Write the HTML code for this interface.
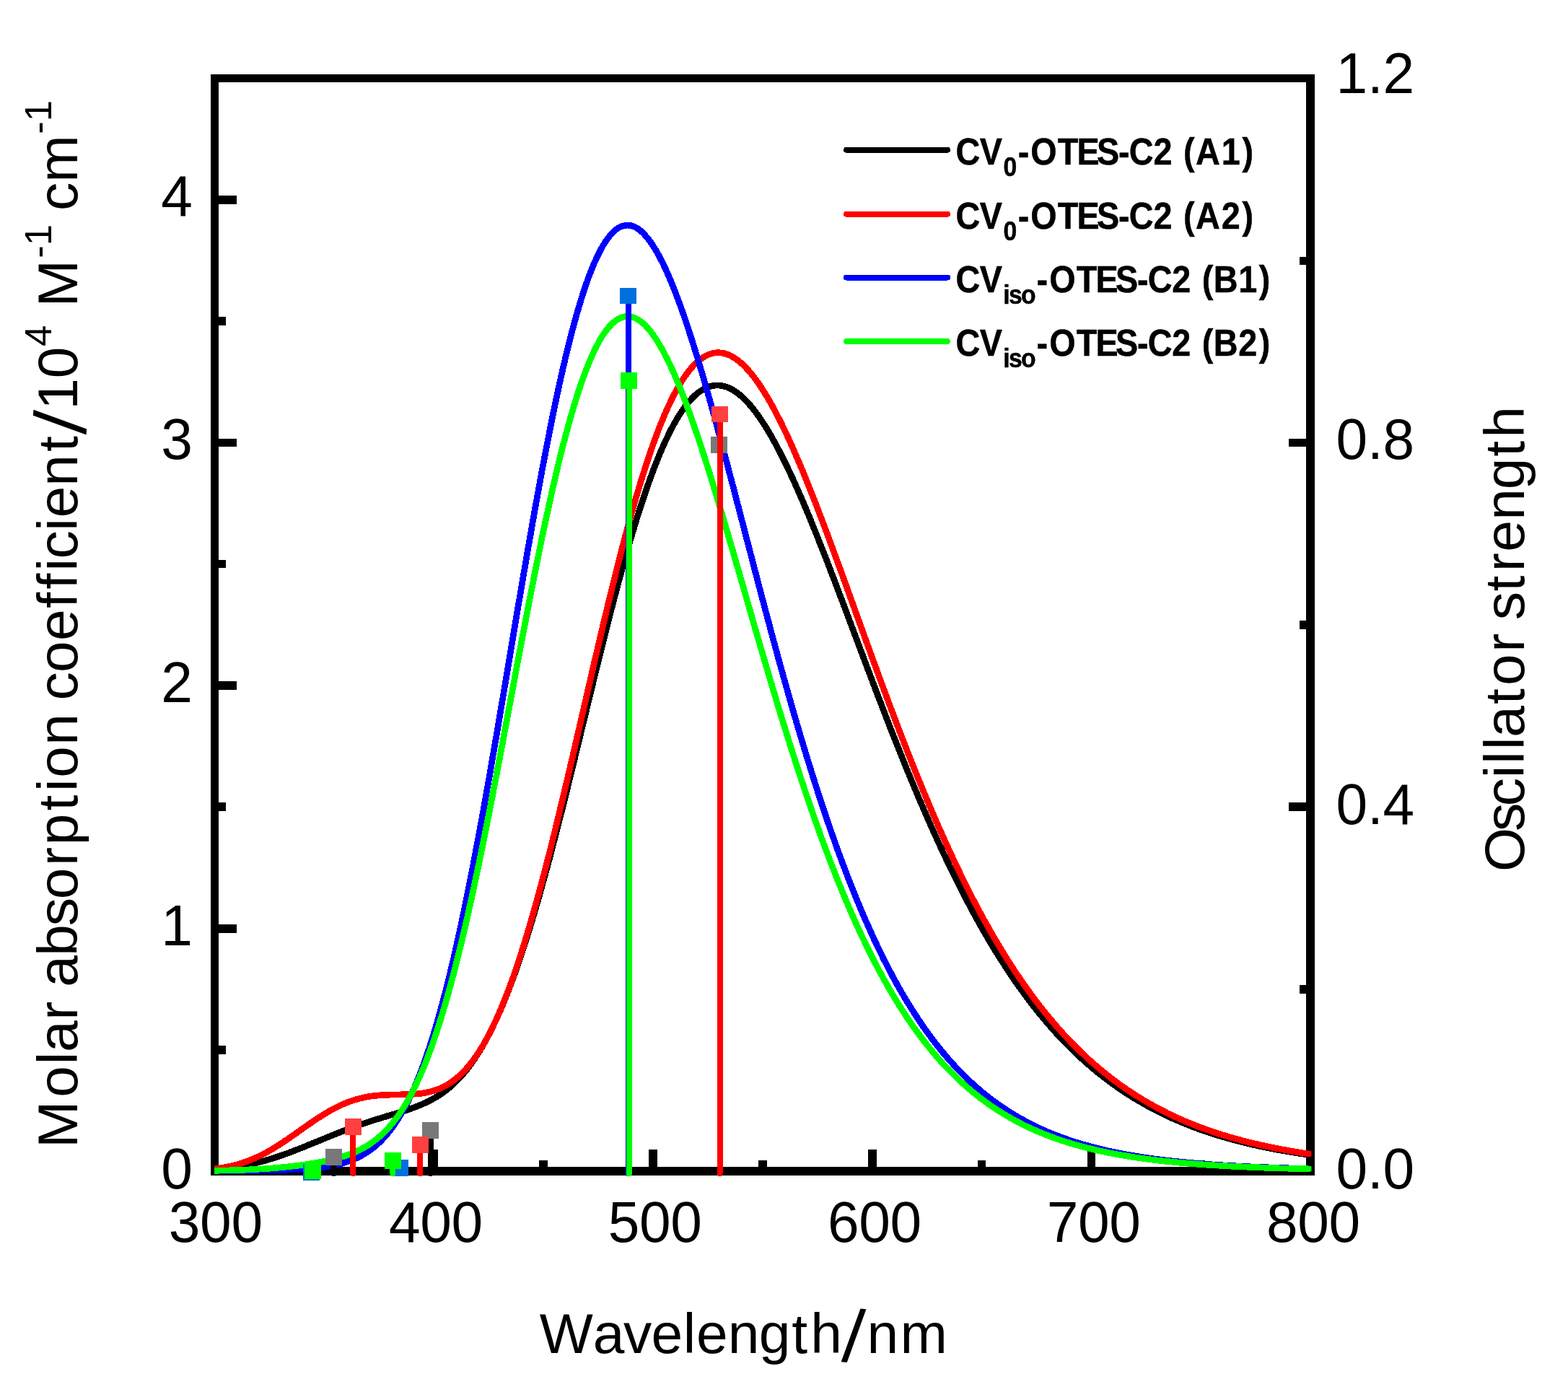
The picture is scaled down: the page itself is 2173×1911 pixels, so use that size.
<!DOCTYPE html>
<html lang="en"><head><meta charset="utf-8"><title>UV-Vis absorption spectra</title>
<style>html,body{margin:0;padding:0;background:#fff}body{width:2173px;height:1911px;overflow:hidden}svg{display:block}text{fill:#000}</style></head><body>
<svg width="2173" height="1911" viewBox="0 0 2173 1911">
<rect width="2173" height="1911" fill="#fff"/>
<g fill="#000" shape-rendering="crispEdges">
<rect x="292" y="103" width="11" height="1526"/>
<rect x="1810" y="103" width="12" height="1526"/>
<rect x="292" y="103" width="1530" height="11"/>
<rect x="292" y="1617" width="1530" height="12"/>
<rect x="303" y="271" width="25" height="12"/>
<rect x="303" y="608" width="25" height="11"/>
<rect x="303" y="944" width="25" height="12"/>
<rect x="303" y="1281" width="25" height="12"/>
<rect x="303" y="439" width="10" height="12"/>
<rect x="303" y="776" width="10" height="11"/>
<rect x="303" y="1112" width="10" height="12"/>
<rect x="303" y="1449" width="10" height="12"/>
<rect x="1786" y="608" width="24" height="11"/>
<rect x="1786" y="1112" width="24" height="12"/>
<rect x="1801" y="356" width="9" height="11"/>
<rect x="1801" y="860" width="9" height="12"/>
<rect x="1801" y="1365" width="9" height="12"/>
<rect x="595" y="1593" width="12" height="24"/>
<rect x="899" y="1593" width="12" height="24"/>
<rect x="1203" y="1593" width="12" height="24"/>
<rect x="1507" y="1593" width="11" height="24"/>
<rect x="443" y="1608" width="12" height="9"/>
<rect x="747" y="1608" width="12" height="9"/>
<rect x="1051" y="1608" width="12" height="9"/>
<rect x="1355" y="1608" width="11" height="9"/>
<rect x="1658" y="1608" width="12" height="9"/>
</g>
<clipPath id="cp"><rect x="297" y="100" width="1520.4" height="1532"/></clipPath>
<g clip-path="url(#cp)" shape-rendering="crispEdges">
<polyline points="292.6,1620.9 295.6,1620.7 298.6,1620.4 301.7,1620.2 304.7,1619.9 307.7,1619.6 310.8,1619.3 313.8,1619.0 316.9,1618.6 319.9,1618.2 322.9,1617.8 326.0,1617.3 329.0,1616.9 332.0,1616.4 335.1,1615.8 338.1,1615.3 341.2,1614.7 344.2,1614.1 347.2,1613.4 350.3,1612.7 353.3,1612.0 356.3,1611.3 359.4,1610.5 362.4,1609.7 365.5,1608.9 368.5,1608.0 371.5,1607.1 374.6,1606.2 377.6,1605.3 380.6,1604.3 383.7,1603.3 386.7,1602.3 389.7,1601.3 392.8,1600.2 395.8,1599.1 398.9,1598.0 401.9,1596.9 404.9,1595.7 408.0,1594.6 411.0,1593.4 414.0,1592.2 417.1,1591.0 420.1,1589.8 423.2,1588.6 426.2,1587.3 429.2,1586.1 432.3,1584.9 435.3,1583.6 438.3,1582.4 441.4,1581.1 444.4,1579.9 447.5,1578.6 450.5,1577.4 453.5,1576.1 456.6,1574.9 459.6,1573.6 462.6,1572.4 465.7,1571.2 468.7,1570.0 471.7,1568.8 474.8,1567.6 477.8,1566.4 480.9,1565.3 483.9,1564.1 486.9,1563.0 490.0,1561.9 493.0,1560.8 496.0,1559.7 499.1,1558.7 502.1,1557.6 505.2,1556.6 508.2,1555.6 511.2,1554.6 514.3,1553.6 517.3,1552.6 520.3,1551.6 523.4,1550.7 526.4,1549.8 529.4,1548.8 532.5,1547.9 535.5,1547.0 538.6,1546.1 541.6,1545.2 544.6,1544.3 547.7,1543.4 550.7,1542.4 553.7,1541.5 556.8,1540.6 559.8,1539.6 562.9,1538.6 565.9,1537.6 568.9,1536.5 572.0,1535.4 575.0,1534.3 578.0,1533.2 581.1,1531.9 584.1,1530.7 587.2,1529.3 590.2,1527.9 593.2,1526.5 596.3,1524.9 599.3,1523.3 602.3,1521.6 605.4,1519.7 608.4,1517.8 611.4,1515.8 614.5,1513.7 617.5,1511.4 620.6,1509.0 623.6,1506.5 626.6,1503.9 629.7,1501.1 632.7,1498.1 635.7,1495.0 638.8,1491.7 641.8,1488.3 644.9,1484.7 647.9,1480.9 650.9,1477.0 654.0,1472.8 657.0,1468.5 660.0,1463.9 663.1,1459.2 666.1,1454.2 669.2,1449.1 672.2,1443.7 675.2,1438.2 678.3,1432.4 681.3,1426.3 684.3,1420.1 687.4,1413.7 690.4,1407.0 693.4,1400.1 696.5,1392.9 699.5,1385.6 702.6,1378.0 705.6,1370.2 708.6,1362.2 711.7,1353.9 714.7,1345.4 717.7,1336.8 720.8,1327.8 723.8,1318.7 726.9,1309.4 729.9,1299.9 732.9,1290.1 736.0,1280.2 739.0,1270.1 742.0,1259.8 745.1,1249.3 748.1,1238.6 751.1,1227.7 754.2,1216.7 757.2,1205.6 760.3,1194.3 763.3,1182.8 766.3,1171.2 769.4,1159.5 772.4,1147.7 775.4,1135.8 778.5,1123.7 781.5,1111.6 784.6,1099.4 787.6,1087.1 790.6,1074.7 793.7,1062.3 796.7,1049.9 799.7,1037.4 802.8,1024.8 805.8,1012.3 808.9,999.8 811.9,987.2 814.9,974.7 818.0,962.2 821.0,949.7 824.0,937.3 827.1,924.9 830.1,912.5 833.1,900.3 836.2,888.1 839.2,876.0 842.3,864.1 845.3,852.2 848.3,840.4 851.4,828.8 854.4,817.3 857.4,805.9 860.5,794.7 863.5,783.7 866.6,772.8 869.6,762.1 872.6,751.6 875.7,741.3 878.7,731.1 881.7,721.2 884.8,711.5 887.8,702.0 890.9,692.7 893.9,683.7 896.9,674.9 900.0,666.3 903.0,657.9 906.0,649.9 909.1,642.0 912.1,634.5 915.1,627.1 918.2,620.1 921.2,613.3 924.3,606.8 927.3,600.5 930.3,594.6 933.4,588.9 936.4,583.5 939.4,578.3 942.5,573.5 945.5,568.9 948.6,564.6 951.6,560.6 954.6,556.9 957.7,553.5 960.7,550.3 963.7,547.4 966.8,544.8 969.8,542.5 972.9,540.5 975.9,538.7 978.9,537.3 982.0,536.1 985.0,535.1 988.0,534.5 991.1,534.1 994.1,534.0 997.1,534.1 1000.2,534.5 1003.2,535.2 1006.3,536.1 1009.3,537.2 1012.3,538.6 1015.4,540.3 1018.4,542.2 1021.4,544.3 1024.5,546.6 1027.5,549.2 1030.6,552.0 1033.6,555.0 1036.6,558.3 1039.7,561.7 1042.7,565.4 1045.7,569.2 1048.8,573.2 1051.8,577.5 1054.8,581.9 1057.9,586.5 1060.9,591.3 1064.0,596.2 1067.0,601.3 1070.0,606.6 1073.1,612.1 1076.1,617.7 1079.1,623.4 1082.2,629.3 1085.2,635.3 1088.3,641.4 1091.3,647.7 1094.3,654.1 1097.4,660.7 1100.4,667.3 1103.4,674.0 1106.5,680.9 1109.5,687.8 1112.6,694.9 1115.6,702.0 1118.6,709.2 1121.7,716.5 1124.7,723.9 1127.7,731.4 1130.8,738.9 1133.8,746.5 1136.8,754.1 1139.9,761.8 1142.9,769.6 1146.0,777.4 1149.0,785.2 1152.0,793.1 1155.1,801.0 1158.1,809.0 1161.1,817.0 1164.2,825.0 1167.2,833.0 1170.3,841.1 1173.3,849.1 1176.3,857.2 1179.4,865.3 1182.4,873.4 1185.4,881.5 1188.5,889.6 1191.5,897.6 1194.6,905.7 1197.6,913.8 1200.6,921.9 1203.7,929.9 1206.7,937.9 1209.7,945.9 1212.8,953.9 1215.8,961.9 1218.8,969.8 1221.9,977.7 1224.9,985.6 1228.0,993.5 1231.0,1001.3 1234.0,1009.1 1237.1,1016.8 1240.1,1024.5 1243.1,1032.2 1246.2,1039.8 1249.2,1047.4 1252.3,1054.9 1255.3,1062.4 1258.3,1069.8 1261.4,1077.2 1264.4,1084.5 1267.4,1091.8 1270.5,1099.0 1273.5,1106.2 1276.6,1113.3 1279.6,1120.3 1282.6,1127.3 1285.7,1134.3 1288.7,1141.2 1291.7,1148.0 1294.8,1154.7 1297.8,1161.4 1300.8,1168.1 1303.9,1174.7 1306.9,1181.2 1310.0,1187.6 1313.0,1194.0 1316.0,1200.3 1319.1,1206.6 1322.1,1212.8 1325.1,1218.9 1328.2,1225.0 1331.2,1231.0 1334.3,1236.9 1337.3,1242.8 1340.3,1248.6 1343.4,1254.4 1346.4,1260.0 1349.4,1265.7 1352.5,1271.2 1355.5,1276.7 1358.5,1282.1 1361.6,1287.5 1364.6,1292.7 1367.7,1298.0 1370.7,1303.1 1373.7,1308.2 1376.8,1313.2 1379.8,1318.2 1382.8,1323.1 1385.9,1327.9 1388.9,1332.7 1392.0,1337.4 1395.0,1342.1 1398.0,1346.7 1401.1,1351.2 1404.1,1355.7 1407.1,1360.1 1410.2,1364.4 1413.2,1368.7 1416.3,1372.9 1419.3,1377.1 1422.3,1381.2 1425.4,1385.2 1428.4,1389.2 1431.4,1393.2 1434.5,1397.0 1437.5,1400.9 1440.5,1404.6 1443.6,1408.3 1446.6,1412.0 1449.7,1415.6 1452.7,1419.1 1455.7,1422.6 1458.8,1426.1 1461.8,1429.5 1464.8,1432.8 1467.9,1436.1 1470.9,1439.3 1474.0,1442.5 1477.0,1445.7 1480.0,1448.7 1483.1,1451.8 1486.1,1454.8 1489.1,1457.7 1492.2,1460.6 1495.2,1463.5 1498.3,1466.3 1501.3,1469.0 1504.3,1471.8 1507.4,1474.4 1510.4,1477.1 1513.4,1479.7 1516.5,1482.2 1519.5,1484.7 1522.5,1487.2 1525.6,1489.6 1528.6,1492.0 1531.7,1494.3 1534.7,1496.6 1537.7,1498.9 1540.8,1501.1 1543.8,1503.3 1546.8,1505.5 1549.9,1507.6 1552.9,1509.7 1556.0,1511.7 1559.0,1513.8 1562.0,1515.7 1565.1,1517.7 1568.1,1519.6 1571.1,1521.5 1574.2,1523.3 1577.2,1525.1 1580.3,1526.9 1583.3,1528.7 1586.3,1530.4 1589.4,1532.1 1592.4,1533.8 1595.4,1535.4 1598.5,1537.0 1601.5,1538.6 1604.5,1540.1 1607.6,1541.6 1610.6,1543.1 1613.7,1544.6 1616.7,1546.1 1619.7,1547.5 1622.8,1548.9 1625.8,1550.2 1628.8,1551.6 1631.9,1552.9 1634.9,1554.2 1638.0,1555.5 1641.0,1556.7 1644.0,1557.9 1647.1,1559.2 1650.1,1560.3 1653.1,1561.5 1656.2,1562.6 1659.2,1563.8 1662.2,1564.9 1665.3,1565.9 1668.3,1567.0 1671.4,1568.0 1674.4,1569.1 1677.4,1570.1 1680.5,1571.1 1683.5,1572.0 1686.5,1573.0 1689.6,1573.9 1692.6,1574.8 1695.7,1575.7 1698.7,1576.6 1701.7,1577.5 1704.8,1578.3 1707.8,1579.1 1710.8,1580.0 1713.9,1580.8 1716.9,1581.6 1720.0,1582.3 1723.0,1583.1 1726.0,1583.8 1729.1,1584.6 1732.1,1585.3 1735.1,1586.0 1738.2,1586.7 1741.2,1587.4 1744.2,1588.0 1747.3,1588.7 1750.3,1589.3 1753.4,1589.9 1756.4,1590.6 1759.4,1591.2 1762.5,1591.8 1765.5,1592.3 1768.5,1592.9 1771.6,1593.5 1774.6,1594.0 1777.7,1594.6 1780.7,1595.1 1783.7,1595.6 1786.8,1596.1 1789.8,1596.6 1792.8,1597.1 1795.9,1597.6 1798.9,1598.1 1802.0,1598.5 1805.0,1599.0 1808.0,1599.4 1811.1,1599.9 1814.1,1600.3" fill="none" stroke="#000000" stroke-width="8.7" stroke-linejoin="round" stroke-linecap="round"/>
<polyline points="292.6,1620.3 295.6,1619.9 298.6,1619.6 301.7,1619.2 304.7,1618.8 307.7,1618.3 310.8,1617.8 313.8,1617.2 316.9,1616.6 319.9,1616.0 322.9,1615.2 326.0,1614.5 329.0,1613.7 332.0,1612.8 335.1,1611.8 338.1,1610.8 341.2,1609.8 344.2,1608.7 347.2,1607.5 350.3,1606.2 353.3,1604.9 356.3,1603.5 359.4,1602.1 362.4,1600.6 365.5,1599.0 368.5,1597.4 371.5,1595.7 374.6,1594.0 377.6,1592.2 380.6,1590.4 383.7,1588.5 386.7,1586.6 389.7,1584.6 392.8,1582.6 395.8,1580.5 398.9,1578.5 401.9,1576.4 404.9,1574.3 408.0,1572.1 411.0,1570.0 414.0,1567.8 417.1,1565.7 420.1,1563.5 423.2,1561.4 426.2,1559.3 429.2,1557.2 432.3,1555.1 435.3,1553.0 438.3,1551.0 441.4,1549.0 444.4,1547.1 447.5,1545.2 450.5,1543.3 453.5,1541.5 456.6,1539.7 459.6,1538.0 462.6,1536.4 465.7,1534.8 468.7,1533.3 471.7,1531.9 474.8,1530.5 477.8,1529.2 480.9,1528.0 483.9,1526.8 486.9,1525.7 490.0,1524.7 493.0,1523.8 496.0,1522.9 499.1,1522.1 502.1,1521.4 505.2,1520.7 508.2,1520.1 511.2,1519.6 514.3,1519.1 517.3,1518.7 520.3,1518.4 523.4,1518.1 526.4,1517.8 529.4,1517.6 532.5,1517.4 535.5,1517.3 538.6,1517.2 541.6,1517.1 544.6,1517.0 547.7,1517.0 550.7,1516.9 553.7,1516.9 556.8,1516.8 559.8,1516.8 562.9,1516.7 565.9,1516.6 568.9,1516.5 572.0,1516.3 575.0,1516.1 578.0,1515.9 581.1,1515.6 584.1,1515.2 587.2,1514.7 590.2,1514.2 593.2,1513.6 596.3,1512.8 599.3,1512.0 602.3,1511.1 605.4,1510.0 608.4,1508.9 611.4,1507.6 614.5,1506.1 617.5,1504.5 620.6,1502.8 623.6,1500.9 626.6,1498.8 629.7,1496.5 632.7,1494.1 635.7,1491.5 638.8,1488.7 641.8,1485.7 644.9,1482.5 647.9,1479.1 650.9,1475.4 654.0,1471.6 657.0,1467.5 660.0,1463.2 663.1,1458.7 666.1,1453.9 669.2,1448.9 672.2,1443.6 675.2,1438.1 678.3,1432.4 681.3,1426.4 684.3,1420.2 687.4,1413.7 690.4,1406.9 693.4,1399.9 696.5,1392.7 699.5,1385.2 702.6,1377.4 705.6,1369.4 708.6,1361.2 711.7,1352.7 714.7,1343.9 717.7,1334.9 720.8,1325.7 723.8,1316.3 726.9,1306.6 729.9,1296.7 732.9,1286.5 736.0,1276.2 739.0,1265.6 742.0,1254.9 745.1,1243.9 748.1,1232.8 751.1,1221.4 754.2,1209.9 757.2,1198.2 760.3,1186.4 763.3,1174.4 766.3,1162.3 769.4,1150.0 772.4,1137.6 775.4,1125.0 778.5,1112.4 781.5,1099.7 784.6,1086.8 787.6,1073.9 790.6,1060.9 793.7,1047.9 796.7,1034.8 799.7,1021.7 802.8,1008.5 805.8,995.3 808.9,982.1 811.9,968.9 814.9,955.7 818.0,942.6 821.0,929.4 824.0,916.4 827.1,903.3 830.1,890.4 833.1,877.5 836.2,864.6 839.2,851.9 842.3,839.3 845.3,826.8 848.3,814.4 851.4,802.1 854.4,790.0 857.4,778.0 860.5,766.2 863.5,754.6 866.6,743.1 869.6,731.8 872.6,720.7 875.7,709.8 878.7,699.1 881.7,688.6 884.8,678.4 887.8,668.3 890.9,658.5 893.9,648.9 896.9,639.6 900.0,630.5 903.0,621.7 906.0,613.2 909.1,604.9 912.1,596.8 915.1,589.1 918.2,581.6 921.2,574.4 924.3,567.4 927.3,560.8 930.3,554.5 933.4,548.4 936.4,542.6 939.4,537.1 942.5,531.9 945.5,527.1 948.6,522.5 951.6,518.2 954.6,514.2 957.7,510.4 960.7,507.0 963.7,503.9 966.8,501.1 969.8,498.6 972.9,496.3 975.9,494.4 978.9,492.7 982.0,491.4 985.0,490.3 988.0,489.5 991.1,489.0 994.1,488.7 997.1,488.8 1000.2,489.1 1003.2,489.6 1006.3,490.5 1009.3,491.6 1012.3,492.9 1015.4,494.6 1018.4,496.4 1021.4,498.5 1024.5,500.9 1027.5,503.5 1030.6,506.3 1033.6,509.4 1036.6,512.6 1039.7,516.1 1042.7,519.8 1045.7,523.8 1048.8,527.9 1051.8,532.2 1054.8,536.7 1057.9,541.5 1060.9,546.4 1064.0,551.5 1067.0,556.7 1070.0,562.1 1073.1,567.7 1076.1,573.5 1079.1,579.4 1082.2,585.5 1085.2,591.7 1088.3,598.0 1091.3,604.5 1094.3,611.1 1097.4,617.9 1100.4,624.7 1103.4,631.7 1106.5,638.8 1109.5,646.0 1112.6,653.3 1115.6,660.7 1118.6,668.2 1121.7,675.7 1124.7,683.4 1127.7,691.1 1130.8,698.9 1133.8,706.8 1136.8,714.7 1139.9,722.7 1142.9,730.7 1146.0,738.8 1149.0,747.0 1152.0,755.2 1155.1,763.4 1158.1,771.7 1161.1,780.0 1164.2,788.3 1167.2,796.6 1170.3,805.0 1173.3,813.4 1176.3,821.8 1179.4,830.2 1182.4,838.6 1185.4,847.0 1188.5,855.5 1191.5,863.9 1194.6,872.3 1197.6,880.7 1200.6,889.1 1203.7,897.5 1206.7,905.8 1209.7,914.2 1212.8,922.5 1215.8,930.8 1218.8,939.1 1221.9,947.3 1224.9,955.5 1228.0,963.7 1231.0,971.9 1234.0,980.0 1237.1,988.0 1240.1,996.1 1243.1,1004.1 1246.2,1012.0 1249.2,1019.9 1252.3,1027.8 1255.3,1035.6 1258.3,1043.3 1261.4,1051.0 1264.4,1058.7 1267.4,1066.3 1270.5,1073.8 1273.5,1081.3 1276.6,1088.7 1279.6,1096.1 1282.6,1103.4 1285.7,1110.6 1288.7,1117.8 1291.7,1125.0 1294.8,1132.0 1297.8,1139.0 1300.8,1146.0 1303.9,1152.8 1306.9,1159.6 1310.0,1166.4 1313.0,1173.1 1316.0,1179.7 1319.1,1186.2 1322.1,1192.7 1325.1,1199.1 1328.2,1205.5 1331.2,1211.7 1334.3,1217.9 1337.3,1224.1 1340.3,1230.2 1343.4,1236.2 1346.4,1242.1 1349.4,1248.0 1352.5,1253.8 1355.5,1259.5 1358.5,1265.2 1361.6,1270.8 1364.6,1276.3 1367.7,1281.8 1370.7,1287.2 1373.7,1292.5 1376.8,1297.8 1379.8,1303.0 1382.8,1308.1 1385.9,1313.2 1388.9,1318.2 1392.0,1323.1 1395.0,1328.0 1398.0,1332.8 1401.1,1337.5 1404.1,1342.2 1407.1,1346.8 1410.2,1351.4 1413.2,1355.8 1416.3,1360.3 1419.3,1364.6 1422.3,1368.9 1425.4,1373.2 1428.4,1377.4 1431.4,1381.5 1434.5,1385.6 1437.5,1389.6 1440.5,1393.5 1443.6,1397.4 1446.6,1401.2 1449.7,1405.0 1452.7,1408.7 1455.7,1412.4 1458.8,1416.0 1461.8,1419.5 1464.8,1423.0 1467.9,1426.5 1470.9,1429.9 1474.0,1433.2 1477.0,1436.5 1480.0,1439.8 1483.1,1443.0 1486.1,1446.1 1489.1,1449.2 1492.2,1452.2 1495.2,1455.2 1498.3,1458.2 1501.3,1461.1 1504.3,1463.9 1507.4,1466.7 1510.4,1469.5 1513.4,1472.2 1516.5,1474.9 1519.5,1477.5 1522.5,1480.1 1525.6,1482.7 1528.6,1485.2 1531.7,1487.6 1534.7,1490.0 1537.7,1492.4 1540.8,1494.8 1543.8,1497.1 1546.8,1499.3 1549.9,1501.6 1552.9,1503.7 1556.0,1505.9 1559.0,1508.0 1562.0,1510.1 1565.1,1512.1 1568.1,1514.1 1571.1,1516.1 1574.2,1518.1 1577.2,1520.0 1580.3,1521.8 1583.3,1523.7 1586.3,1525.5 1589.4,1527.3 1592.4,1529.0 1595.4,1530.7 1598.5,1532.4 1601.5,1534.1 1604.5,1535.7 1607.6,1537.3 1610.6,1538.9 1613.7,1540.4 1616.7,1542.0 1619.7,1543.5 1622.8,1544.9 1625.8,1546.4 1628.8,1547.8 1631.9,1549.2 1634.9,1550.5 1638.0,1551.9 1641.0,1553.2 1644.0,1554.5 1647.1,1555.7 1650.1,1557.0 1653.1,1558.2 1656.2,1559.4 1659.2,1560.6 1662.2,1561.7 1665.3,1562.9 1668.3,1564.0 1671.4,1565.1 1674.4,1566.2 1677.4,1567.2 1680.5,1568.3 1683.5,1569.3 1686.5,1570.3 1689.6,1571.3 1692.6,1572.2 1695.7,1573.2 1698.7,1574.1 1701.7,1575.0 1704.8,1575.9 1707.8,1576.8 1710.8,1577.6 1713.9,1578.5 1716.9,1579.3 1720.0,1580.1 1723.0,1580.9 1726.0,1581.7 1729.1,1582.5 1732.1,1583.2 1735.1,1584.0 1738.2,1584.7 1741.2,1585.4 1744.2,1586.1 1747.3,1586.8 1750.3,1587.5 1753.4,1588.1 1756.4,1588.8 1759.4,1589.4 1762.5,1590.1 1765.5,1590.7 1768.5,1591.3 1771.6,1591.9 1774.6,1592.4 1777.7,1593.0 1780.7,1593.6 1783.7,1594.1 1786.8,1594.7 1789.8,1595.2 1792.8,1595.7 1795.9,1596.2 1798.9,1596.7 1802.0,1597.2 1805.0,1597.7 1808.0,1598.1 1811.1,1598.6 1814.1,1599.1" fill="none" stroke="#ff0000" stroke-width="8.7" stroke-linejoin="round" stroke-linecap="round"/>
<polyline points="292.6,1622.6 295.6,1622.6 298.6,1622.6 301.7,1622.6 304.7,1622.6 307.7,1622.5 310.8,1622.5 313.8,1622.5 316.9,1622.5 319.9,1622.5 322.9,1622.5 326.0,1622.5 329.0,1622.5 332.0,1622.4 335.1,1622.4 338.1,1622.4 341.2,1622.4 344.2,1622.3 347.2,1622.3 350.3,1622.3 353.3,1622.2 356.3,1622.2 359.4,1622.2 362.4,1622.1 365.5,1622.1 368.5,1622.0 371.5,1621.9 374.6,1621.9 377.6,1621.8 380.6,1621.7 383.7,1621.6 386.7,1621.6 389.7,1621.5 392.8,1621.4 395.8,1621.3 398.9,1621.1 401.9,1621.0 404.9,1620.9 408.0,1620.7 411.0,1620.6 414.0,1620.4 417.1,1620.2 420.1,1620.0 423.2,1619.8 426.2,1619.6 429.2,1619.4 432.3,1619.1 435.3,1618.8 438.3,1618.5 441.4,1618.2 444.4,1617.8 447.5,1617.4 450.5,1617.0 453.5,1616.5 456.6,1616.0 459.6,1615.4 462.6,1614.9 465.7,1614.2 468.7,1613.5 471.7,1612.8 474.8,1611.9 477.8,1611.0 480.9,1610.1 483.9,1609.0 486.9,1607.9 490.0,1606.7 493.0,1605.4 496.0,1604.0 499.1,1602.4 502.1,1600.8 505.2,1599.0 508.2,1597.1 511.2,1595.1 514.3,1592.9 517.3,1590.6 520.3,1588.1 523.4,1585.4 526.4,1582.6 529.4,1579.5 532.5,1576.3 535.5,1572.8 538.6,1569.2 541.6,1565.3 544.6,1561.2 547.7,1556.8 550.7,1552.2 553.7,1547.3 556.8,1542.2 559.8,1536.8 562.9,1531.1 565.9,1525.1 568.9,1518.8 572.0,1512.2 575.0,1505.4 578.0,1498.1 581.1,1490.6 584.1,1482.8 587.2,1474.6 590.2,1466.0 593.2,1457.2 596.3,1448.0 599.3,1438.4 602.3,1428.5 605.4,1418.2 608.4,1407.6 611.4,1396.6 614.5,1385.3 617.5,1373.7 620.6,1361.7 623.6,1349.3 626.6,1336.6 629.7,1323.6 632.7,1310.2 635.7,1296.5 638.8,1282.5 641.8,1268.2 644.9,1253.6 647.9,1238.6 650.9,1223.4 654.0,1207.9 657.0,1192.2 660.0,1176.2 663.1,1159.9 666.1,1143.5 669.2,1126.8 672.2,1109.9 675.2,1092.8 678.3,1075.5 681.3,1058.1 684.3,1040.5 687.4,1022.8 690.4,1005.0 693.4,987.1 696.5,969.1 699.5,951.1 702.6,933.0 705.6,914.9 708.6,896.8 711.7,878.7 714.7,860.6 717.7,842.6 720.8,824.6 723.8,806.7 726.9,788.9 729.9,771.3 732.9,753.7 736.0,736.4 739.0,719.1 742.0,702.1 745.1,685.3 748.1,668.7 751.1,652.3 754.2,636.2 757.2,620.4 760.3,604.8 763.3,589.5 766.3,574.5 769.4,559.9 772.4,545.6 775.4,531.6 778.5,518.0 781.5,504.8 784.6,492.0 787.6,479.5 790.6,467.5 793.7,455.8 796.7,444.6 799.7,433.8 802.8,423.4 805.8,413.5 808.9,404.0 811.9,395.0 814.9,386.4 818.0,378.3 821.0,370.7 824.0,363.5 827.1,356.8 830.1,350.6 833.1,344.8 836.2,339.5 839.2,334.7 842.3,330.3 845.3,326.5 848.3,323.1 851.4,320.1 854.4,317.6 857.4,315.6 860.5,314.1 863.5,313.0 866.6,312.3 869.6,312.1 872.6,312.3 875.7,313.0 878.7,314.1 881.7,315.6 884.8,317.5 887.8,319.9 890.9,322.6 893.9,325.8 896.9,329.3 900.0,333.2 903.0,337.4 906.0,342.1 909.1,347.1 912.1,352.4 915.1,358.1 918.2,364.0 921.2,370.3 924.3,377.0 927.3,383.9 930.3,391.1 933.4,398.6 936.4,406.3 939.4,414.3 942.5,422.6 945.5,431.1 948.6,439.8 951.6,448.8 954.6,458.0 957.7,467.3 960.7,476.9 963.7,486.7 966.8,496.6 969.8,506.7 972.9,516.9 975.9,527.3 978.9,537.9 982.0,548.6 985.0,559.3 988.0,570.3 991.1,581.3 994.1,592.4 997.1,603.6 1000.2,614.8 1003.2,626.2 1006.3,637.6 1009.3,649.1 1012.3,660.6 1015.4,672.1 1018.4,683.7 1021.4,695.3 1024.5,707.0 1027.5,718.7 1030.6,730.3 1033.6,742.0 1036.6,753.7 1039.7,765.3 1042.7,777.0 1045.7,788.6 1048.8,800.2 1051.8,811.8 1054.8,823.3 1057.9,834.8 1060.9,846.3 1064.0,857.7 1067.0,869.0 1070.0,880.3 1073.1,891.5 1076.1,902.7 1079.1,913.8 1082.2,924.8 1085.2,935.8 1088.3,946.6 1091.3,957.4 1094.3,968.1 1097.4,978.8 1100.4,989.3 1103.4,999.7 1106.5,1010.1 1109.5,1020.3 1112.6,1030.5 1115.6,1040.5 1118.6,1050.5 1121.7,1060.3 1124.7,1070.1 1127.7,1079.7 1130.8,1089.3 1133.8,1098.7 1136.8,1108.0 1139.9,1117.2 1142.9,1126.3 1146.0,1135.3 1149.0,1144.2 1152.0,1152.9 1155.1,1161.6 1158.1,1170.1 1161.1,1178.5 1164.2,1186.9 1167.2,1195.1 1170.3,1203.1 1173.3,1211.1 1176.3,1219.0 1179.4,1226.7 1182.4,1234.3 1185.4,1241.9 1188.5,1249.3 1191.5,1256.6 1194.6,1263.7 1197.6,1270.8 1200.6,1277.8 1203.7,1284.6 1206.7,1291.4 1209.7,1298.0 1212.8,1304.5 1215.8,1310.9 1218.8,1317.3 1221.9,1323.5 1224.9,1329.6 1228.0,1335.6 1231.0,1341.5 1234.0,1347.3 1237.1,1353.0 1240.1,1358.6 1243.1,1364.1 1246.2,1369.5 1249.2,1374.8 1252.3,1380.0 1255.3,1385.1 1258.3,1390.1 1261.4,1395.1 1264.4,1399.9 1267.4,1404.7 1270.5,1409.3 1273.5,1413.9 1276.6,1418.4 1279.6,1422.8 1282.6,1427.1 1285.7,1431.4 1288.7,1435.5 1291.7,1439.6 1294.8,1443.6 1297.8,1447.5 1300.8,1451.3 1303.9,1455.1 1306.9,1458.8 1310.0,1462.4 1313.0,1466.0 1316.0,1469.4 1319.1,1472.8 1322.1,1476.2 1325.1,1479.4 1328.2,1482.6 1331.2,1485.8 1334.3,1488.9 1337.3,1491.9 1340.3,1494.8 1343.4,1497.7 1346.4,1500.5 1349.4,1503.3 1352.5,1506.0 1355.5,1508.6 1358.5,1511.2 1361.6,1513.8 1364.6,1516.2 1367.7,1518.7 1370.7,1521.1 1373.7,1523.4 1376.8,1525.7 1379.8,1527.9 1382.8,1530.1 1385.9,1532.2 1388.9,1534.3 1392.0,1536.3 1395.0,1538.3 1398.0,1540.3 1401.1,1542.2 1404.1,1544.1 1407.1,1545.9 1410.2,1547.7 1413.2,1549.4 1416.3,1551.1 1419.3,1552.8 1422.3,1554.4 1425.4,1556.0 1428.4,1557.6 1431.4,1559.1 1434.5,1560.6 1437.5,1562.1 1440.5,1563.5 1443.6,1564.9 1446.6,1566.2 1449.7,1567.6 1452.7,1568.9 1455.7,1570.1 1458.8,1571.4 1461.8,1572.6 1464.8,1573.8 1467.9,1574.9 1470.9,1576.1 1474.0,1577.2 1477.0,1578.2 1480.0,1579.3 1483.1,1580.3 1486.1,1581.3 1489.1,1582.3 1492.2,1583.3 1495.2,1584.2 1498.3,1585.1 1501.3,1586.0 1504.3,1586.9 1507.4,1587.7 1510.4,1588.6 1513.4,1589.4 1516.5,1590.2 1519.5,1590.9 1522.5,1591.7 1525.6,1592.4 1528.6,1593.2 1531.7,1593.9 1534.7,1594.6 1537.7,1595.2 1540.8,1595.9 1543.8,1596.5 1546.8,1597.2 1549.9,1597.8 1552.9,1598.4 1556.0,1598.9 1559.0,1599.5 1562.0,1600.1 1565.1,1600.6 1568.1,1601.1 1571.1,1601.6 1574.2,1602.2 1577.2,1602.6 1580.3,1603.1 1583.3,1603.6 1586.3,1604.0 1589.4,1604.5 1592.4,1604.9 1595.4,1605.4 1598.5,1605.8 1601.5,1606.2 1604.5,1606.6 1607.6,1607.0 1610.6,1607.3 1613.7,1607.7 1616.7,1608.1 1619.7,1608.4 1622.8,1608.7 1625.8,1609.1 1628.8,1609.4 1631.9,1609.7 1634.9,1610.0 1638.0,1610.3 1641.0,1610.6 1644.0,1610.9 1647.1,1611.2 1650.1,1611.5 1653.1,1611.7 1656.2,1612.0 1659.2,1612.3 1662.2,1612.5 1665.3,1612.7 1668.3,1613.0 1671.4,1613.2 1674.4,1613.4 1677.4,1613.7 1680.5,1613.9 1683.5,1614.1 1686.5,1614.3 1689.6,1614.5 1692.6,1614.7 1695.7,1614.9 1698.7,1615.1 1701.7,1615.2 1704.8,1615.4 1707.8,1615.6 1710.8,1615.8 1713.9,1615.9 1716.9,1616.1 1720.0,1616.2 1723.0,1616.4 1726.0,1616.5 1729.1,1616.7 1732.1,1616.8 1735.1,1617.0 1738.2,1617.1 1741.2,1617.2 1744.2,1617.4 1747.3,1617.5 1750.3,1617.6 1753.4,1617.7 1756.4,1617.8 1759.4,1617.9 1762.5,1618.1 1765.5,1618.2 1768.5,1618.3 1771.6,1618.4 1774.6,1618.5 1777.7,1618.6 1780.7,1618.7 1783.7,1618.8 1786.8,1618.9 1789.8,1618.9 1792.8,1619.0 1795.9,1619.1 1798.9,1619.2 1802.0,1619.3 1805.0,1619.4 1808.0,1619.4 1811.1,1619.5 1814.1,1619.6" fill="none" stroke="#0000ff" stroke-width="8.7" stroke-linejoin="round" stroke-linecap="round"/>
<polyline points="292.6,1622.3 295.6,1622.2 298.6,1622.2 301.7,1622.2 304.7,1622.1 307.7,1622.1 310.8,1622.0 313.8,1621.9 316.9,1621.9 319.9,1621.8 322.9,1621.7 326.0,1621.6 329.0,1621.5 332.0,1621.4 335.1,1621.3 338.1,1621.2 341.2,1621.1 344.2,1620.9 347.2,1620.8 350.3,1620.6 353.3,1620.5 356.3,1620.3 359.4,1620.1 362.4,1620.0 365.5,1619.8 368.5,1619.6 371.5,1619.3 374.6,1619.1 377.6,1618.9 380.6,1618.6 383.7,1618.4 386.7,1618.1 389.7,1617.8 392.8,1617.5 395.8,1617.2 398.9,1616.9 401.9,1616.5 404.9,1616.2 408.0,1615.8 411.0,1615.5 414.0,1615.1 417.1,1614.7 420.1,1614.3 423.2,1613.8 426.2,1613.4 429.2,1612.9 432.3,1612.4 435.3,1611.9 438.3,1611.4 441.4,1610.9 444.4,1610.3 447.5,1609.7 450.5,1609.1 453.5,1608.4 456.6,1607.8 459.6,1607.0 462.6,1606.3 465.7,1605.5 468.7,1604.7 471.7,1603.8 474.8,1602.9 477.8,1601.9 480.9,1600.9 483.9,1599.8 486.9,1598.6 490.0,1597.4 493.0,1596.0 496.0,1594.6 499.1,1593.2 502.1,1591.6 505.2,1589.9 508.2,1588.1 511.2,1586.2 514.3,1584.2 517.3,1582.0 520.3,1579.7 523.4,1577.3 526.4,1574.7 529.4,1571.9 532.5,1569.0 535.5,1565.9 538.6,1562.7 541.6,1559.2 544.6,1555.5 547.7,1551.7 550.7,1547.6 553.7,1543.3 556.8,1538.7 559.8,1533.9 562.9,1528.9 565.9,1523.6 568.9,1518.1 572.0,1512.3 575.0,1506.2 578.0,1499.8 581.1,1493.2 584.1,1486.2 587.2,1479.0 590.2,1471.5 593.2,1463.7 596.3,1455.5 599.3,1447.1 602.3,1438.3 605.4,1429.2 608.4,1419.8 611.4,1410.1 614.5,1400.1 617.5,1389.8 620.6,1379.1 623.6,1368.2 626.6,1356.9 629.7,1345.4 632.7,1333.5 635.7,1321.3 638.8,1308.9 641.8,1296.2 644.9,1283.2 647.9,1269.9 650.9,1256.4 654.0,1242.6 657.0,1228.5 660.0,1214.3 663.1,1199.8 666.1,1185.1 669.2,1170.2 672.2,1155.1 675.2,1139.9 678.3,1124.5 681.3,1108.9 684.3,1093.2 687.4,1077.4 690.4,1061.5 693.4,1045.5 696.5,1029.4 699.5,1013.2 702.6,997.0 705.6,980.8 708.6,964.6 711.7,948.4 714.7,932.2 717.7,916.0 720.8,899.9 723.8,883.9 726.9,867.9 729.9,852.1 732.9,836.3 736.0,820.7 739.0,805.3 742.0,790.0 745.1,774.9 748.1,759.9 751.1,745.2 754.2,730.7 757.2,716.5 760.3,702.5 763.3,688.8 766.3,675.3 769.4,662.1 772.4,649.2 775.4,636.7 778.5,624.4 781.5,612.5 784.6,601.0 787.6,589.7 790.6,578.9 793.7,568.4 796.7,558.3 799.7,548.6 802.8,539.2 805.8,530.3 808.9,521.7 811.9,513.6 814.9,505.8 818.0,498.5 821.0,491.6 824.0,485.1 827.1,479.1 830.1,473.4 833.1,468.2 836.2,463.4 839.2,459.1 842.3,455.1 845.3,451.6 848.3,448.5 851.4,445.8 854.4,443.6 857.4,441.8 860.5,440.3 863.5,439.3 866.6,438.7 869.6,438.5 872.6,438.7 875.7,439.3 878.7,440.2 881.7,441.6 884.8,443.3 887.8,445.4 890.9,447.8 893.9,450.7 896.9,453.8 900.0,457.3 903.0,461.1 906.0,465.3 909.1,469.8 912.1,474.6 915.1,479.7 918.2,485.0 921.2,490.7 924.3,496.7 927.3,502.9 930.3,509.4 933.4,516.1 936.4,523.1 939.4,530.3 942.5,537.7 945.5,545.4 948.6,553.3 951.6,561.3 954.6,569.6 957.7,578.1 960.7,586.7 963.7,595.5 966.8,604.4 969.8,613.5 972.9,622.8 975.9,632.2 978.9,641.7 982.0,651.3 985.0,661.0 988.0,670.9 991.1,680.8 994.1,690.8 997.1,700.9 1000.2,711.1 1003.2,721.3 1006.3,731.6 1009.3,742.0 1012.3,752.4 1015.4,762.8 1018.4,773.3 1021.4,783.8 1024.5,794.3 1027.5,804.8 1030.6,815.3 1033.6,825.9 1036.6,836.4 1039.7,846.9 1042.7,857.5 1045.7,868.0 1048.8,878.4 1051.8,888.9 1054.8,899.3 1057.9,909.7 1060.9,920.0 1064.0,930.3 1067.0,940.6 1070.0,950.8 1073.1,960.9 1076.1,971.0 1079.1,981.1 1082.2,991.0 1085.2,1000.9 1088.3,1010.7 1091.3,1020.5 1094.3,1030.2 1097.4,1039.8 1100.4,1049.3 1103.4,1058.7 1106.5,1068.1 1109.5,1077.3 1112.6,1086.5 1115.6,1095.6 1118.6,1104.6 1121.7,1113.5 1124.7,1122.3 1127.7,1131.1 1130.8,1139.7 1133.8,1148.2 1136.8,1156.6 1139.9,1165.0 1142.9,1173.2 1146.0,1181.3 1149.0,1189.3 1152.0,1197.3 1155.1,1205.1 1158.1,1212.8 1161.1,1220.4 1164.2,1227.9 1167.2,1235.4 1170.3,1242.7 1173.3,1249.9 1176.3,1257.0 1179.4,1264.0 1182.4,1270.9 1185.4,1277.7 1188.5,1284.4 1191.5,1291.0 1194.6,1297.5 1197.6,1303.9 1200.6,1310.2 1203.7,1316.4 1206.7,1322.5 1209.7,1328.5 1212.8,1334.4 1215.8,1340.2 1218.8,1345.9 1221.9,1351.6 1224.9,1357.1 1228.0,1362.5 1231.0,1367.9 1234.0,1373.1 1237.1,1378.3 1240.1,1383.3 1243.1,1388.3 1246.2,1393.2 1249.2,1398.0 1252.3,1402.7 1255.3,1407.4 1258.3,1411.9 1261.4,1416.4 1264.4,1420.8 1267.4,1425.1 1270.5,1429.3 1273.5,1433.4 1276.6,1437.5 1279.6,1441.5 1282.6,1445.4 1285.7,1449.2 1288.7,1453.0 1291.7,1456.7 1294.8,1460.3 1297.8,1463.9 1300.8,1467.3 1303.9,1470.8 1306.9,1474.1 1310.0,1477.4 1313.0,1480.6 1316.0,1483.7 1319.1,1486.8 1322.1,1489.8 1325.1,1492.8 1328.2,1495.7 1331.2,1498.5 1334.3,1501.3 1337.3,1504.0 1340.3,1506.7 1343.4,1509.3 1346.4,1511.9 1349.4,1514.4 1352.5,1516.8 1355.5,1519.2 1358.5,1521.6 1361.6,1523.9 1364.6,1526.1 1367.7,1528.3 1370.7,1530.5 1373.7,1532.6 1376.8,1534.7 1379.8,1536.7 1382.8,1538.7 1385.9,1540.6 1388.9,1542.5 1392.0,1544.3 1395.0,1546.2 1398.0,1547.9 1401.1,1549.7 1404.1,1551.4 1407.1,1553.0 1410.2,1554.6 1413.2,1556.2 1416.3,1557.8 1419.3,1559.3 1422.3,1560.8 1425.4,1562.2 1428.4,1563.6 1431.4,1565.0 1434.5,1566.3 1437.5,1567.7 1440.5,1569.0 1443.6,1570.2 1446.6,1571.5 1449.7,1572.7 1452.7,1573.8 1455.7,1575.0 1458.8,1576.1 1461.8,1577.2 1464.8,1578.3 1467.9,1579.3 1470.9,1580.4 1474.0,1581.4 1477.0,1582.3 1480.0,1583.3 1483.1,1584.2 1486.1,1585.1 1489.1,1586.0 1492.2,1586.9 1495.2,1587.7 1498.3,1588.6 1501.3,1589.4 1504.3,1590.2 1507.4,1591.0 1510.4,1591.7 1513.4,1592.4 1516.5,1593.2 1519.5,1593.9 1522.5,1594.6 1525.6,1595.2 1528.6,1595.9 1531.7,1596.5 1534.7,1597.1 1537.7,1597.8 1540.8,1598.3 1543.8,1598.9 1546.8,1599.5 1549.9,1600.1 1552.9,1600.6 1556.0,1601.1 1559.0,1601.6 1562.0,1602.1 1565.1,1602.6 1568.1,1603.1 1571.1,1603.6 1574.2,1604.0 1577.2,1604.5 1580.3,1604.9 1583.3,1605.3 1586.3,1605.8 1589.4,1606.2 1592.4,1606.6 1595.4,1606.9 1598.5,1607.3 1601.5,1607.7 1604.5,1608.0 1607.6,1608.4 1610.6,1608.7 1613.7,1609.1 1616.7,1609.4 1619.7,1609.7 1622.8,1610.0 1625.8,1610.3 1628.8,1610.6 1631.9,1610.9 1634.9,1611.2 1638.0,1611.5 1641.0,1611.7 1644.0,1612.0 1647.1,1612.2 1650.1,1612.5 1653.1,1612.7 1656.2,1613.0 1659.2,1613.2 1662.2,1613.4 1665.3,1613.6 1668.3,1613.9 1671.4,1614.1 1674.4,1614.3 1677.4,1614.5 1680.5,1614.7 1683.5,1614.9 1686.5,1615.0 1689.6,1615.2 1692.6,1615.4 1695.7,1615.6 1698.7,1615.7 1701.7,1615.9 1704.8,1616.1 1707.8,1616.2 1710.8,1616.4 1713.9,1616.5 1716.9,1616.7 1720.0,1616.8 1723.0,1617.0 1726.0,1617.1 1729.1,1617.2 1732.1,1617.3 1735.1,1617.5 1738.2,1617.6 1741.2,1617.7 1744.2,1617.8 1747.3,1617.9 1750.3,1618.1 1753.4,1618.2 1756.4,1618.3 1759.4,1618.4 1762.5,1618.5 1765.5,1618.6 1768.5,1618.7 1771.6,1618.8 1774.6,1618.9 1777.7,1618.9 1780.7,1619.0 1783.7,1619.1 1786.8,1619.2 1789.8,1619.3 1792.8,1619.4 1795.9,1619.4 1798.9,1619.5 1802.0,1619.6 1805.0,1619.6 1808.0,1619.7 1811.1,1619.8 1814.1,1619.9" fill="none" stroke="#00ff00" stroke-width="8.7" stroke-linejoin="round" stroke-linecap="round"/>
</g>
<g shape-rendering="crispEdges">
<line x1="997.5" y1="616.5" x2="997.5" y2="1626.2" stroke="#000000" stroke-width="8" stroke-linecap="round"/>
<rect x="985.2" y="605.1" width="22.8" height="22.8" fill="#787878"/>
<line x1="596.6" y1="1566.3" x2="596.6" y2="1626.2" stroke="#000000" stroke-width="8" stroke-linecap="round"/>
<rect x="585.2" y="1554.9" width="22.8" height="22.8" fill="#787878"/>
<line x1="462.1" y1="1603.6" x2="462.1" y2="1626.2" stroke="#000000" stroke-width="8" stroke-linecap="round"/>
<rect x="450.7" y="1592.2" width="22.8" height="22.8" fill="#787878"/>
<line x1="997.5" y1="574.0" x2="997.5" y2="1626.2" stroke="#ff0000" stroke-width="8" stroke-linecap="round"/>
<rect x="986.1" y="562.6" width="22.8" height="22.8" fill="#ff4040"/>
<line x1="582.4" y1="1586.5" x2="582.4" y2="1626.2" stroke="#ff0000" stroke-width="8" stroke-linecap="round"/>
<rect x="571.0" y="1575.1" width="22.8" height="22.8" fill="#ff4040"/>
<line x1="489.4" y1="1561.5" x2="489.4" y2="1626.2" stroke="#ff0000" stroke-width="8" stroke-linecap="round"/>
<rect x="478.0" y="1550.1" width="22.8" height="22.8" fill="#ff4040"/>
<line x1="870.6" y1="410.0" x2="870.6" y2="1626.2" stroke="#0000ff" stroke-width="8" stroke-linecap="round"/>
<rect x="859.2" y="398.6" width="22.8" height="22.8" fill="#0070e0"/>
<line x1="554.4" y1="1618.5" x2="554.4" y2="1626.2" stroke="#0000ff" stroke-width="8" stroke-linecap="round"/>
<rect x="543.0" y="1607.0" width="22.8" height="22.8" fill="#0070e0"/>
<line x1="431.7" y1="1624.6" x2="431.7" y2="1626.2" stroke="#0000ff" stroke-width="8" stroke-linecap="round"/>
<rect x="420.3" y="1613.2" width="22.8" height="22.8" fill="#0070e0"/>
<line x1="871.8" y1="527.4" x2="871.8" y2="1626.2" stroke="#00ff00" stroke-width="8" stroke-linecap="round"/>
<rect x="860.4" y="516.0" width="22.8" height="22.8" fill="#00ff00"/>
<line x1="544.4" y1="1608.6" x2="544.4" y2="1626.2" stroke="#00ff00" stroke-width="8" stroke-linecap="round"/>
<rect x="533.0" y="1597.2" width="22.8" height="22.8" fill="#00ff00"/>
<line x1="433.6" y1="1622.2" x2="433.6" y2="1626.2" stroke="#00ff00" stroke-width="8" stroke-linecap="round"/>
<rect x="422.2" y="1610.8" width="22.8" height="22.8" fill="#00ff00"/>
</g>
<g shape-rendering="crispEdges" stroke-width="8" stroke-linecap="round">
<line x1="1173" y1="207.7" x2="1313" y2="207.7" stroke="#000000"/>
<line x1="1173" y1="296.7" x2="1313" y2="296.7" stroke="#ff0000"/>
<line x1="1173" y1="384.5" x2="1313" y2="384.5" stroke="#0000ff"/>
<line x1="1173" y1="473" x2="1313" y2="473" stroke="#00ff00"/>
</g>
<g stroke="#000" stroke-width="0.5">
<text transform="translate(1326.2,227.8) scale(0.9,1)" font-family="Liberation Sans, sans-serif" font-size="52" font-weight="700" xml:space="preserve"><tspan x="-1.97 35.06" y="0">CV</tspan><tspan x="71.55" y="15.9" font-size="37.5">0</tspan><tspan x="93.84 113.48 155.03 184.81 215.35 248.79 265.2 302.44 332.97 348.63 367.69 407.37 439.2" y="0">-OTES-C2 (A1)</tspan></text>
<text transform="translate(1326.2,316.8) scale(0.9,1)" font-family="Liberation Sans, sans-serif" font-size="52" font-weight="700" xml:space="preserve"><tspan x="-1.97 35.06" y="0">CV</tspan><tspan x="71.55" y="15.9" font-size="37.5">0</tspan><tspan x="93.84 113.48 155.03 184.81 215.35 248.79 265.2 302.44 332.97 348.63 367.69 407.37 439.2" y="0">-OTES-C2 (A2)</tspan></text>
<text transform="translate(1326.2,404.7) scale(0.9,1)" font-family="Liberation Sans, sans-serif" font-size="52" font-weight="700" xml:space="preserve"><tspan x="-1.97 35.06" y="0">CV</tspan><tspan x="71.21 79.72 98.65" y="15.9" font-size="37.5">iso</tspan><tspan x="122.62 142.26 183.82 213.59 244.13 277.57 293.99 331.23 361.76 377.42 395.04 433.3 465.12" y="0">-OTES-C2 (B1)</tspan></text>
<text transform="translate(1326.2,493.3) scale(0.9,1)" font-family="Liberation Sans, sans-serif" font-size="52" font-weight="700" xml:space="preserve"><tspan x="-1.97 35.06" y="0">CV</tspan><tspan x="71.21 79.72 98.65" y="15.9" font-size="37.5">iso</tspan><tspan x="122.62 142.26 183.82 213.59 244.13 277.57 293.99 331.23 361.76 377.42 395.04 433.3 465.12" y="0">-OTES-C2 (B2)</tspan></text>
</g>
<g>
<text transform="translate(234,1721.3) scale(1,1.015)" font-family="Liberation Sans, sans-serif" font-size="78.5" font-weight="400" xml:space="preserve"><tspan x="-0.18 43.12 86.42" y="0">300</tspan></text>
<text transform="translate(539.05,1721.3) scale(1,1.015)" font-family="Liberation Sans, sans-serif" font-size="78.5" font-weight="400" xml:space="preserve"><tspan x="-0.18 43.12 86.42" y="0">400</tspan></text>
<text transform="translate(842.95,1721.3) scale(1,1.015)" font-family="Liberation Sans, sans-serif" font-size="78.5" font-weight="400" xml:space="preserve"><tspan x="-0.18 43.12 86.42" y="0">500</tspan></text>
<text transform="translate(1147.2,1721.3) scale(1,1.015)" font-family="Liberation Sans, sans-serif" font-size="78.5" font-weight="400" xml:space="preserve"><tspan x="-0.18 43.12 86.42" y="0">600</tspan></text>
<text transform="translate(1450.9,1721.3) scale(1,1.015)" font-family="Liberation Sans, sans-serif" font-size="78.5" font-weight="400" xml:space="preserve"><tspan x="-0.18 43.12 86.42" y="0">700</tspan></text>
<text transform="translate(1755.1,1721.3) scale(1,1.015)" font-family="Liberation Sans, sans-serif" font-size="78.5" font-weight="400" xml:space="preserve"><tspan x="-0.18 43.12 86.42" y="0">800</tspan></text>
<text transform="translate(223.3,299.1) scale(1,1.015)" font-family="Liberation Sans, sans-serif" font-size="78.5" font-weight="400" xml:space="preserve"><tspan x="-0.18" y="0">4</tspan></text>
<text transform="translate(223.3,636.1) scale(1,1.015)" font-family="Liberation Sans, sans-serif" font-size="78.5" font-weight="400" xml:space="preserve"><tspan x="-0.18" y="0">3</tspan></text>
<text transform="translate(223.3,973) scale(1,1.015)" font-family="Liberation Sans, sans-serif" font-size="78.5" font-weight="400" xml:space="preserve"><tspan x="-0.18" y="0">2</tspan></text>
<text transform="translate(223.3,1309.8) scale(1,1.015)" font-family="Liberation Sans, sans-serif" font-size="78.5" font-weight="400" xml:space="preserve"><tspan x="-0.18" y="0">1</tspan></text>
<text transform="translate(223.3,1647) scale(1,1.015)" font-family="Liberation Sans, sans-serif" font-size="78.5" font-weight="400" xml:space="preserve"><tspan x="-0.18" y="0">0</tspan></text>
<text transform="translate(1851.74,129.15) scale(1,1.015)" font-family="Liberation Sans, sans-serif" font-size="78.5" font-weight="400" xml:space="preserve"><tspan x="-0.18 43.15 64.64" y="0">1.2</tspan></text>
<text transform="translate(1851.74,636.1) scale(1,1.015)" font-family="Liberation Sans, sans-serif" font-size="78.5" font-weight="400" xml:space="preserve"><tspan x="-0.18 43.15 64.64" y="0">0.8</tspan></text>
<text transform="translate(1851.74,1141.7) scale(1,1.015)" font-family="Liberation Sans, sans-serif" font-size="78.5" font-weight="400" xml:space="preserve"><tspan x="-0.18 43.15 64.64" y="0">0.4</tspan></text>
<text transform="translate(1851.74,1646.8) scale(1,1.015)" font-family="Liberation Sans, sans-serif" font-size="78.5" font-weight="400" xml:space="preserve"><tspan x="-0.18 43.15 64.64" y="0">0.0</tspan></text>
</g>
<g>
<text transform="translate(746.5,1874.7)" font-family="Liberation Sans, sans-serif" font-size="78.5" font-weight="400" xml:space="preserve"><tspan x="1.18 75.2 117.39 155.98 200.32 218.43 262.37 305.15 350.69 376.7" y="0">Wavelength</tspan><tspan x="419.35" y="11.6" font-size="103" rotate="4.7">/</tspan><tspan x="454.96 500.96" y="0">nm</tspan></text>
<text transform="translate(106.9,1594.86) rotate(-90)" font-family="Liberation Sans, sans-serif" font-size="78.5" font-weight="400" xml:space="preserve"><tspan x="3.94 74.03 119.53 136.76 181 207.8 227.09 270.11 311.56 348.69 394.99 423.68 471.46 497.81 517.1 562.17 605.28 624.37 662.87 706.79 752.13 778.26 803.33 820.36 859.21 877.25 921.09 968.86" y="0">Molar absorption coefficient</tspan><tspan x="992.35" y="11.6" font-size="103" rotate="4.7">/</tspan><tspan x="1027.1 1070.55" y="0">10</tspan><tspan x="1114.84" y="-36" font-size="52.6">4</tspan><tspan x="1144.77 1169.3" y="0"> M</tspan><tspan x="1237.19 1254.66" y="-36" font-size="52.6">-1</tspan><tspan x="1283.77 1302.86 1342.15" y="0"> cm</tspan><tspan x="1409.19 1426.66" y="-36" font-size="52.6">-1</tspan></text>
<text transform="translate(2111.9,1205.9) rotate(-90)" font-family="Liberation Sans, sans-serif" font-size="78.5" font-weight="400" xml:space="preserve"><tspan x="-2.16 53.86 88.74 127.59 147.21 166.84 184.07 229.87 255.88 302.18 328.98 346.7 386.53 413.67 441.21 485.04 527.72 573.18 599.11" y="0">Oscillator strength</tspan></text>
</g>
</svg></body></html>
